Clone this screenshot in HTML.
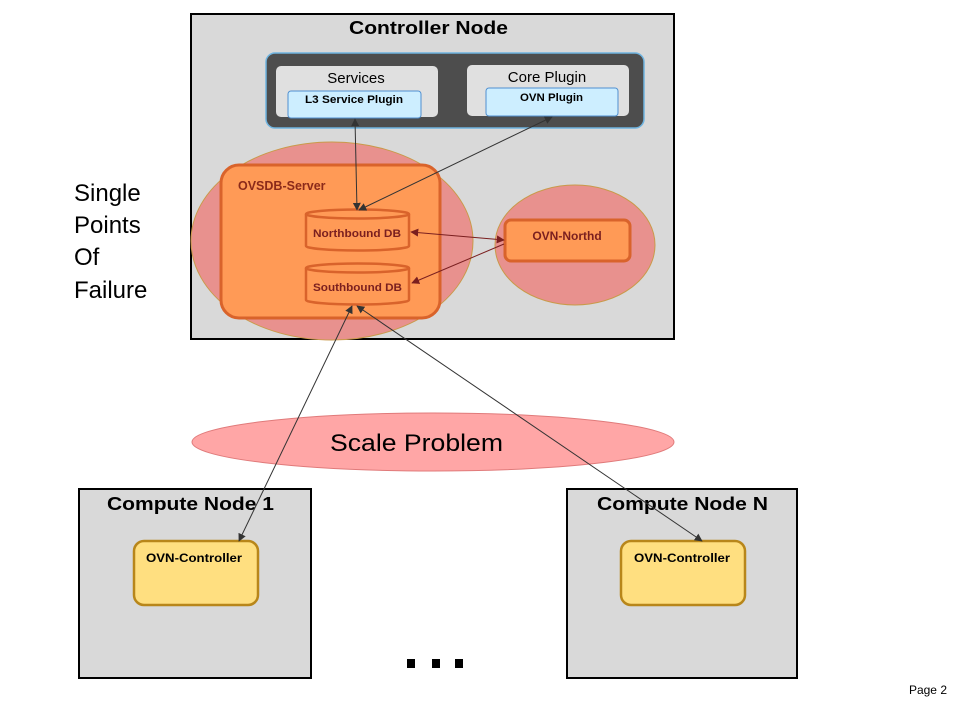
<!DOCTYPE html>
<html><head><meta charset="utf-8"><style>
html,body{margin:0;padding:0;background:#fff;}
svg{display:block;}
text{font-family:"Liberation Sans",Arial,sans-serif;}
</style></head><body>
<svg width="960" height="720" viewBox="0 0 960 720" xmlns="http://www.w3.org/2000/svg">
<defs>
<marker id="a" viewBox="0 0 10 10" refX="9" refY="5" markerWidth="8" markerHeight="8" orient="auto-start-reverse">
<path d="M0,0 L10,5 L0,10 z" fill="#333"/></marker>
<marker id="b" viewBox="0 0 10 10" refX="9" refY="5" markerWidth="8" markerHeight="8" orient="auto-start-reverse">
<path d="M0,0 L10,5 L0,10 z" fill="#7a1f1f"/></marker>
</defs>
<rect x="191" y="14" width="483" height="325" fill="#d9d9d9" stroke="#000" stroke-width="2"/>
<text x="349" y="34" font-size="18" font-weight="bold" textLength="159" lengthAdjust="spacingAndGlyphs">Controller  Node</text>
<rect x="266" y="53" width="378" height="75" rx="9" fill="#4d4d4d" stroke="#6fb4e0" stroke-width="1.5"/>
<rect x="276" y="66" width="162" height="51" rx="5" fill="#e0e0e0"/>
<text x="356" y="83" font-size="15" text-anchor="middle">Services</text>
<rect x="288" y="91" width="133" height="27" rx="3" fill="#cdeeff" stroke="#4f8fd0" stroke-width="1"/>
<text x="305" y="103" font-size="11" font-weight="bold" textLength="98" lengthAdjust="spacingAndGlyphs">L3 Service Plugin</text>
<rect x="467" y="65" width="162" height="51" rx="5" fill="#e0e0e0"/>
<text x="547" y="82" font-size="15" text-anchor="middle">Core Plugin</text>
<rect x="486" y="88" width="132" height="28" rx="3" fill="#cdeeff" stroke="#4f8fd0" stroke-width="1"/>
<text x="520" y="101" font-size="11" font-weight="bold" textLength="63" lengthAdjust="spacingAndGlyphs">OVN Plugin</text>
<ellipse cx="332" cy="241" rx="141" ry="99" fill="#e8918e" stroke="#c99a4a" stroke-width="1"/>
<rect x="221" y="165" width="219" height="153" rx="18" fill="#ff9a56" stroke="#d9632b" stroke-width="3"/>
<text x="238" y="190" font-size="12.5" font-weight="bold" fill="#8b2a1a">OVSDB-Server</text>
<ellipse cx="575" cy="245" rx="80" ry="60" fill="#e8918e" stroke="#c99a4a" stroke-width="1"/>
<rect x="505" y="220" width="125" height="41" rx="6" fill="#ff9a56" stroke="#d9632b" stroke-width="3"/>
<text x="567" y="240" font-size="12" font-weight="bold" fill="#7a1f1f" text-anchor="middle">OVN-Northd</text>
<g fill="#ff9a56" stroke="#d9632b" stroke-width="2.5">
<path d="M306,214 L306,246 A51.5,4.5 0 0 0 409,246 L409,214"/>
<ellipse cx="357.5" cy="214" rx="51.5" ry="4.5"/>
<path d="M306,268 L306,300 A51.5,4.5 0 0 0 409,300 L409,268"/>
<ellipse cx="357.5" cy="268" rx="51.5" ry="4.5"/>
</g>
<text x="313" y="237" font-size="11" font-weight="bold" fill="#7a1f1f" textLength="88" lengthAdjust="spacingAndGlyphs">Northbound  DB</text>
<text x="313" y="291" font-size="11" font-weight="bold" fill="#7a1f1f" textLength="89" lengthAdjust="spacingAndGlyphs">Southbound  DB</text>
<g font-size="24" fill="#000">
<text x="74" y="201">Single</text><text x="74" y="233">Points</text><text x="74" y="265">Of</text><text x="74" y="298">Failure</text>
</g>
<ellipse cx="433" cy="442" rx="241" ry="29" fill="#ffa6a6" stroke="#e07a7a" stroke-width="1"/>
<text x="330" y="451" font-size="24" textLength="173" lengthAdjust="spacingAndGlyphs">Scale Problem</text>
<rect x="79" y="489" width="232" height="189" fill="#d9d9d9" stroke="#000" stroke-width="2"/>
<text x="107" y="510" font-size="18" font-weight="bold" textLength="167" lengthAdjust="spacingAndGlyphs">Compute Node 1</text>
<rect x="134" y="541" width="124" height="64" rx="10" fill="#ffdf80" stroke="#b8861a" stroke-width="2.5"/>
<text x="146" y="562" font-size="12" font-weight="bold" textLength="96" lengthAdjust="spacingAndGlyphs">OVN-Controller</text>
<rect x="567" y="489" width="230" height="189" fill="#d9d9d9" stroke="#000" stroke-width="2"/>
<text x="597" y="510" font-size="18" font-weight="bold" textLength="171" lengthAdjust="spacingAndGlyphs">Compute Node N</text>
<rect x="621" y="541" width="124" height="64" rx="10" fill="#ffdf80" stroke="#b8861a" stroke-width="2.5"/>
<text x="634" y="562" font-size="12" font-weight="bold" textLength="96" lengthAdjust="spacingAndGlyphs">OVN-Controller</text>
<rect x="407" y="659" width="8" height="9" fill="#000"/>
<rect x="432" y="659" width="8" height="9" fill="#000"/>
<rect x="455" y="659" width="8" height="9" fill="#000"/>
<g stroke="#333" stroke-width="1" fill="none">
<line x1="355" y1="119" x2="357" y2="210" marker-start="url(#a)" marker-end="url(#a)"/>
<line x1="552" y1="117" x2="359" y2="210" marker-start="url(#a)" marker-end="url(#a)"/>
<line x1="352" y1="306" x2="239" y2="541" marker-start="url(#a)" marker-end="url(#a)"/>
<line x1="357" y1="306" x2="702" y2="541" marker-start="url(#a)" marker-end="url(#a)"/>
</g>
<g stroke="#7a1f1f" stroke-width="1" fill="none">
<line x1="411" y1="232" x2="504" y2="240" marker-start="url(#b)" marker-end="url(#b)"/>
<line x1="504" y1="244" x2="412" y2="283" marker-end="url(#b)"/>
</g>
<text x="947" y="694" font-size="12" text-anchor="end">Page 2</text>
</svg>
</body></html>
